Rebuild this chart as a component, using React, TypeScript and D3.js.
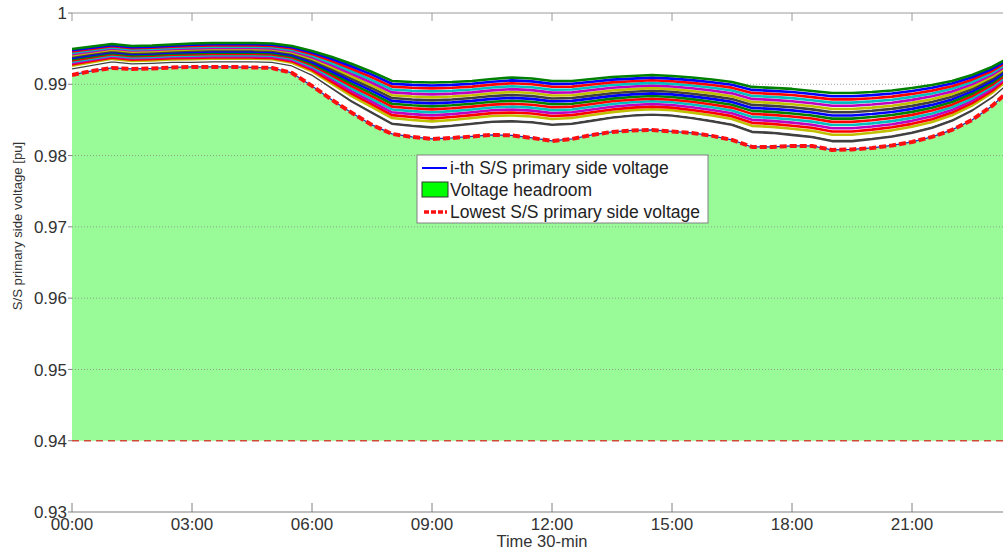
import * as d3 from "d3"

// half-hourly samples
const timeLabels = [
  "00:00", "00:30", "01:00", "01:30", "02:00", "02:30", "03:00", "03:30",
  "04:00", "04:30", "05:00", "05:30", "06:00", "06:30", "07:00", "07:30",
  "08:00", "08:30", "09:00", "09:30", "10:00", "10:30", "11:00", "11:30",
  "12:00", "12:30", "13:00", "13:30", "14:00", "14:30", "15:00", "15:30",
  "16:00", "16:30", "17:00", "17:30", "18:00", "18:30", "19:00", "19:30",
  "20:00", "20:30", "21:00", "21:30", "22:00", "22:30", "23:00", "23:30",
]
const xTickLabels = ["00:00", "03:00", "06:00", "09:00", "12:00", "15:00", "18:00", "21:00"]
const yTicks = [0.93, 0.94, 0.95, 0.96, 0.97, 0.98, 0.99, 1]
const lowerLimit = 0.94

// primary side voltage of each S/S [pu], highest first
const ssVoltages = [
  [0.99495,0.9953,0.99565,0.99537,0.99544,0.99558,0.99572,0.99579,0.99579,0.99579,0.99572,0.99537,0.99467,0.99383,0.99285,0.99173,0.99047,0.99033,0.99026,0.99033,0.99047,0.99075,0.99096,0.99082,0.99047,0.99047,0.99075,0.99103,0.99117,0.99131,0.99117,0.99096,0.99068,0.99033,0.98963,0.98949,0.98935,0.98906,0.98878,0.98878,0.98892,0.98913,0.98949,0.98991,0.99047,0.99131,0.99243,0.99397],
  [0.99477,0.99513,0.99549,0.99521,0.99528,0.99542,0.99555,0.99562,0.99562,0.99562,0.99555,0.99519,0.99445,0.99354,0.9925,0.99135,0.99007,0.98992,0.98984,0.98992,0.99007,0.99035,0.99055,0.99041,0.99006,0.99007,0.99036,0.99065,0.9908,0.99094,0.9908,0.99058,0.99029,0.98993,0.98921,0.98907,0.98892,0.98863,0.98833,0.98833,0.98848,0.9887,0.98907,0.98951,0.9901,0.99098,0.99215,0.99375],
  [0.99459,0.99496,0.99533,0.99505,0.99512,0.99526,0.99538,0.99545,0.99545,0.99545,0.99538,0.99501,0.99423,0.99325,0.99215,0.99097,0.98967,0.98951,0.98942,0.98951,0.98967,0.98995,0.99014,0.99,0.98965,0.98967,0.98997,0.99027,0.99043,0.99057,0.99043,0.9902,0.9899,0.98953,0.98879,0.98865,0.98849,0.9882,0.98788,0.98788,0.98804,0.98827,0.98865,0.98911,0.98973,0.99065,0.99187,0.99353],
  [0.99441,0.99479,0.99517,0.99489,0.99496,0.9951,0.99521,0.99528,0.99528,0.99528,0.99521,0.99483,0.99401,0.99296,0.9918,0.99059,0.98927,0.9891,0.989,0.9891,0.98927,0.98955,0.98973,0.98959,0.98924,0.98927,0.98958,0.98989,0.99006,0.9902,0.99006,0.98982,0.98951,0.98913,0.98837,0.98823,0.98806,0.98777,0.98743,0.98743,0.9876,0.98784,0.98823,0.98871,0.98936,0.99032,0.99159,0.99331],
  [0.99423,0.99462,0.99501,0.99473,0.9948,0.99494,0.99504,0.99511,0.99511,0.99511,0.99504,0.99465,0.99379,0.99267,0.99145,0.99021,0.98887,0.98869,0.98858,0.98869,0.98887,0.98915,0.98932,0.98918,0.98883,0.98887,0.98919,0.98951,0.98969,0.98983,0.98969,0.98944,0.98912,0.98873,0.98795,0.98781,0.98763,0.98734,0.98698,0.98698,0.98716,0.98741,0.98781,0.98831,0.98899,0.98999,0.99131,0.99309],
  [0.99405,0.99445,0.99485,0.99457,0.99464,0.99478,0.99487,0.99494,0.99494,0.99494,0.99487,0.99447,0.99357,0.99238,0.9911,0.98983,0.98847,0.98828,0.98816,0.98828,0.98847,0.98875,0.98891,0.98877,0.98842,0.98847,0.9888,0.98913,0.98932,0.98946,0.98932,0.98906,0.98873,0.98833,0.98753,0.98739,0.9872,0.98691,0.98653,0.98653,0.98672,0.98698,0.98739,0.98791,0.98862,0.98966,0.99103,0.99287],
  [0.99387,0.99428,0.99469,0.99441,0.99448,0.99462,0.9947,0.99477,0.99477,0.99477,0.9947,0.99429,0.99335,0.99209,0.99075,0.98945,0.98807,0.98787,0.98774,0.98787,0.98807,0.98835,0.9885,0.98836,0.98801,0.98807,0.98841,0.98875,0.98895,0.98909,0.98895,0.98868,0.98834,0.98793,0.98711,0.98697,0.98677,0.98648,0.98608,0.98608,0.98628,0.98655,0.98697,0.98751,0.98825,0.98933,0.99075,0.99265],
  [0.99369,0.99411,0.99453,0.99425,0.99432,0.99446,0.99453,0.9946,0.9946,0.9946,0.99453,0.99411,0.99313,0.9918,0.9904,0.98907,0.98767,0.98746,0.98732,0.98746,0.98767,0.98795,0.98809,0.98795,0.9876,0.98767,0.98802,0.98837,0.98858,0.98872,0.98858,0.9883,0.98795,0.98753,0.98669,0.98655,0.98634,0.98605,0.98563,0.98563,0.98584,0.98612,0.98655,0.98711,0.98788,0.989,0.99047,0.99243],
  [0.99351,0.99394,0.99437,0.99409,0.99416,0.9943,0.99436,0.99443,0.99443,0.99443,0.99436,0.99393,0.99291,0.99151,0.99005,0.98869,0.98727,0.98705,0.9869,0.98705,0.98727,0.98755,0.98768,0.98754,0.98719,0.98727,0.98763,0.98799,0.98821,0.98835,0.98821,0.98792,0.98756,0.98713,0.98627,0.98613,0.98591,0.98562,0.98518,0.98518,0.9854,0.98569,0.98613,0.98671,0.98751,0.98867,0.99019,0.99221],
  [0.99333,0.99377,0.99421,0.99393,0.994,0.99414,0.99419,0.99426,0.99426,0.99426,0.99419,0.99375,0.99269,0.99122,0.9897,0.98831,0.98687,0.98664,0.98648,0.98664,0.98687,0.98715,0.98727,0.98713,0.98678,0.98687,0.98724,0.98761,0.98784,0.98798,0.98784,0.98754,0.98717,0.98673,0.98585,0.98571,0.98548,0.98519,0.98473,0.98473,0.98496,0.98526,0.98571,0.98631,0.98714,0.98834,0.98991,0.99199],
  [0.99315,0.9936,0.99405,0.99377,0.99384,0.99398,0.99402,0.99409,0.99409,0.99409,0.99402,0.99357,0.99247,0.99093,0.98935,0.98793,0.98647,0.98623,0.98606,0.98623,0.98647,0.98675,0.98686,0.98672,0.98637,0.98647,0.98685,0.98723,0.98747,0.98761,0.98747,0.98716,0.98678,0.98633,0.98543,0.98529,0.98505,0.98476,0.98428,0.98428,0.98452,0.98483,0.98529,0.98591,0.98677,0.98801,0.98963,0.99177],
  [0.99297,0.99343,0.99389,0.99361,0.99368,0.99382,0.99385,0.99392,0.99392,0.99392,0.99385,0.99339,0.99225,0.99064,0.989,0.98755,0.98607,0.98582,0.98564,0.98582,0.98607,0.98635,0.98645,0.98631,0.98596,0.98607,0.98646,0.98685,0.9871,0.98724,0.9871,0.98678,0.98639,0.98593,0.98501,0.98487,0.98462,0.98433,0.98383,0.98383,0.98408,0.9844,0.98487,0.98551,0.9864,0.98768,0.98935,0.99155],
  [0.99279,0.99326,0.99373,0.99345,0.99352,0.99366,0.99368,0.99375,0.99375,0.99375,0.99368,0.99321,0.99203,0.99035,0.98865,0.98717,0.98567,0.98541,0.98522,0.98541,0.98567,0.98595,0.98604,0.9859,0.98555,0.98567,0.98607,0.98647,0.98673,0.98687,0.98673,0.9864,0.986,0.98553,0.98459,0.98445,0.98419,0.9839,0.98338,0.98338,0.98364,0.98397,0.98445,0.98511,0.98603,0.98735,0.98907,0.99133],
  [0.99261,0.99309,0.99357,0.99329,0.99336,0.9935,0.99351,0.99358,0.99358,0.99358,0.99351,0.99303,0.99181,0.99006,0.9883,0.98679,0.98527,0.985,0.9848,0.985,0.98527,0.98555,0.98563,0.98549,0.98514,0.98527,0.98568,0.98609,0.98636,0.9865,0.98636,0.98602,0.98561,0.98513,0.98417,0.98403,0.98376,0.98347,0.98293,0.98293,0.9832,0.98354,0.98403,0.98471,0.98566,0.98702,0.98879,0.99111],
  [0.99243,0.99292,0.99341,0.99313,0.9932,0.99334,0.99334,0.99341,0.99341,0.99341,0.99334,0.99285,0.99159,0.98977,0.98795,0.98641,0.98487,0.98459,0.98438,0.98459,0.98487,0.98515,0.98522,0.98508,0.98473,0.98487,0.98529,0.98571,0.98599,0.98613,0.98599,0.98564,0.98522,0.98473,0.98375,0.98361,0.98333,0.98304,0.98248,0.98248,0.98276,0.98311,0.98361,0.98431,0.98529,0.98669,0.98851,0.99089],
  [0.99225,0.99275,0.99325,0.99297,0.99304,0.99318,0.99317,0.99324,0.99324,0.99324,0.99317,0.99267,0.99137,0.98948,0.9876,0.98603,0.98447,0.98418,0.98396,0.98418,0.98447,0.98475,0.98481,0.98467,0.98432,0.98447,0.9849,0.98533,0.98562,0.98576,0.98562,0.98526,0.98483,0.98433,0.98333,0.98319,0.9829,0.98261,0.98203,0.98203,0.98232,0.98268,0.98319,0.98391,0.98492,0.98636,0.98823,0.99067],
]

const lowestVoltage = [
  0.99131,0.99187,0.99229,0.99215,0.99222,0.99236,0.99243,0.99243,0.99243,0.99236,0.99229,0.99159,0.98977,0.9878,0.98598,0.9843,
  0.98304,0.98261,0.98233,0.98247,0.98268,0.9829,0.98283,0.98247,0.98205,0.98233,0.9829,0.98332,0.98353,0.9836,0.98339,0.98318,
  0.98276,0.9822,0.98121,0.98121,0.98135,0.98135,0.98079,0.98086,0.98107,0.98142,0.98191,0.98262,0.9836,0.985,0.98696,0.98949,
]

// MATLAB-ish colour order
const lineColors = [
  "#008000", "#0000ff", "#ff0000", "#00bfbf", "#bf00bf", "#bfbf00", "#404040", "#0000ff",
  "#008000", "#ff0000", "#00bfbf", "#bf00bf", "#ff0000", "#bfbf00", "#ffffff", "#404040",
]

const legendItems = ["i-th S/S primary side voltage", "Voltage headroom", "Lowest S/S primary side voltage"]

const FONT = "'Liberation Sans', Arial, sans-serif"

export default function App() {
  const width = 1003
  const height = 552
  const left = 72
  const right = 1012
  const top = 13
  const bottom = 512

  const x = d3.scalePoint<string>().domain(timeLabels).range([left, right])
  const y = d3.scaleLinear().domain([0.93, 1]).range([bottom, top])

  const line = d3
    .line<number>()
    .x((_, i) => x(timeLabels[i]) as number)
    .y((d) => y(d))

  const area = d3
    .area<number>()
    .x((_, i) => x(timeLabels[i]) as number)
    .y0(y(lowerLimit))
    .y1((d) => y(d))

  const lx = 417
  const ly = 155

  return (
    <div style={{ position: "fixed", left: 0, top: 0 }}>
      <svg width={width} height={height} style={{ display: "block", background: "#fff" }} fontFamily={FONT}>
        <defs>
          <clipPath id="plot">
            <rect x={left} y={top} width={right - left} height={bottom - top} />
          </clipPath>
        </defs>

        {/* headroom */}
        <path d={area(lowestVoltage) || ""} fill="#98fb98" clipPath="url(#plot)" />

        {/* grid */}
        {yTicks
          .filter((t) => t > 0.94 && t < 1)
          .map((t) => (
            <line key={t} x1={left} x2={right} y1={y(t)} y2={y(t)} stroke="#8a8a8a" strokeWidth={0.8} strokeDasharray="1 2" />
          ))}

        {/* lower limit */}
        <line x1={left} x2={right} y1={y(lowerLimit)} y2={y(lowerLimit)} stroke="#d04a3a" strokeWidth={1.6} strokeDasharray="7 5" />

        {/* substation voltages, lowest drawn first */}
        <g clipPath="url(#plot)" fill="none" strokeLinejoin="round">
          {ssVoltages
            .map((s, i) => ({ s, i }))
            .reverse()
            .map(({ s, i }) => (
              <path key={i} d={line(s) || ""} stroke={lineColors[i % lineColors.length]} strokeWidth={2.6} />
            ))}
          <path d={line(lowestVoltage) || ""} stroke="#2a2ab0" strokeWidth={1.2} />
          <path d={line(lowestVoltage) || ""} stroke="#ff1010" strokeWidth={4} strokeDasharray="7 3" />
        </g>

        {/* axes */}
        <line x1={left} x2={width} y1={top} y2={top} stroke="#9a9a9a" strokeWidth={1} />
        <line x1={left} x2={width} y1={bottom} y2={bottom} stroke="#808080" strokeWidth={1.2} />
        {xTickLabels.map((t) => (
          <g key={t}>
            <line x1={x(t)} x2={x(t)} y1={bottom} y2={bottom - 9} stroke="#808080" strokeWidth={1} />
            <line x1={x(t)} x2={x(t)} y1={top} y2={top + 8} stroke="#9a9a9a" strokeWidth={1} />
            <text x={x(t)} y={530} textAnchor="middle" fontSize={17} fill="#333">
              {t}
            </text>
          </g>
        ))}
        {yTicks.map((t) => (
          <g key={t}>
            <line x1={left - 4} x2={left} y1={y(t)} y2={y(t)} stroke="#808080" strokeWidth={1} />
            <text x={67} y={y(t)} dy="0.36em" textAnchor="end" fontSize={17} fill="#333">
              {String(t)}
            </text>
          </g>
        ))}

        <text x={(left + right) / 2} y={547} textAnchor="middle" fontSize={16.5} fill="#333">
          Time 30-min
        </text>
        <text transform="translate(22,226) rotate(-90)" textAnchor="middle" fontSize={13.2} fill="#333">
          S/S primary side voltage [pu]
        </text>

        {/* legend */}
        <g>
          <rect x={lx} y={ly} width={291} height={68} fill="#fff" stroke="#808080" strokeWidth={1} />
          <line x1={lx + 5} x2={lx + 30} y1={ly + 13} y2={ly + 13} stroke="#0000ff" strokeWidth={2} />
          <rect x={lx + 5} y={ly + 27} width={26} height={15} fill="#00ff00" stroke="#333" strokeWidth={1} />
          <line x1={lx + 7} x2={lx + 30} y1={ly + 57} y2={ly + 57} stroke="#ff1010" strokeWidth={3.5} strokeDasharray="5 2" />
          {legendItems.map((t, i) => (
            <text key={t} x={lx + 33} y={ly + 13 + i * 22} dy="0.36em" fontSize={17.5} fill="#222">
              {t}
            </text>
          ))}
        </g>
      </svg>
    </div>
  )
}
